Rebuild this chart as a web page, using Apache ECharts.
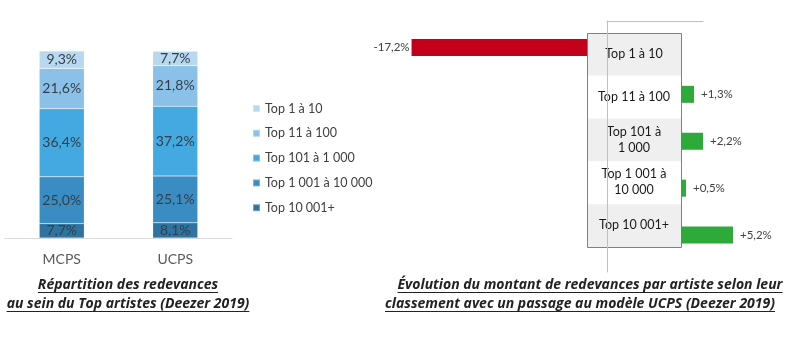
<!DOCTYPE html>
<html><head><meta charset="utf-8">
<script src="https://cdn.jsdelivr.net/npm/echarts@6/dist/echarts.min.js"></script>
<style>html,body{margin:0;padding:0;background:#fff}#c{width:798px;height:340px}</style>
</head><body><div id="c"></div>
<script>
// Artist tiers (top of the ranking first)
const tiers = ['Top 1 à 10', 'Top 11 à 100', 'Top 101 à 1 000', 'Top 1 001 à 10 000', 'Top 10 001+'];
const tierRowLabels = ['Top 1 à 10', 'Top 11 à 100', 'Top 101 à\n1 000', 'Top 1 001 à\n10 000', 'Top 10 001+'];
const models = ['MCPS', 'UCPS'];
// Share of royalties (%) going to each tier, per model
const shareMCPS = [9.3, 21.6, 36.4, 25.0, 7.7];
const shareUCPS = [7.7, 21.8, 37.2, 25.1, 8.1];
// Change (%) in royalties per artist when moving to UCPS
const changeUCPS = [-17.2, 1.3, 2.2, 0.5, 5.2];

const titleLeft = ['Répartition des redevances', 'au sein du Top artistes (Deezer 2019)'];
const titleRight = ['Évolution du montant de redevances par artiste selon leur',
                    'classement avec un passage au modèle UCPS (Deezer 2019)'];

const tierColors = ['#b8d8ef', '#8bc1e8', '#44a9e0', '#3a8dc3', '#2f74a0'];
const FONT = 'Lato, "Open Sans", sans-serif';
const TITLE_FONT = '"Open Sans", Lato, sans-serif';

const fmt = v => v.toFixed(1).replace('.', ',') + '%';
const fmtSigned = v => (v > 0 ? '+' : '') + fmt(v);

const chart = echarts.init(document.getElementById('c'), null, { renderer: 'canvas' });

// stacked share bars: first series sits at the bottom of the stack
const shareSeries = [];
for (let i = tiers.length - 1; i >= 0; i--) {
  shareSeries.push({
    name: tiers[i], type: 'bar', stack: 'share', xAxisIndex: 0, yAxisIndex: 0,
    barWidth: 45,
    data: [shareMCPS[i], shareUCPS[i]],
    itemStyle: { color: tierColors[i], borderColor: 'rgba(255,255,255,0.35)', borderWidth: 0.5 },
    label: { show: true, position: 'inside', formatter: p => fmt(p.value),
             color: '#333f48', fontSize: 14, fontFamily: FONT },
    emphasis: { disabled: true }
  });
}

const labelStyle = { color: '#404040', fontSize: 11.5, fontFamily: FONT };

const changeNeg = changeUCPS.map(v => (v < 0 ? v : '-'));
const changePos = changeUCPS.map(v => (v >= 0 ? v : '-'));

// title text + underline, measured with the same font
const measure = document.createElement('canvas').getContext('2d');
measure.font = 'italic bold 14px "Open Sans"';
function titleLine(text, cx, cy) {
  const w = measure.measureText(text).width;
  return [
    { type: 'text', z: 100, style: { text, x: cx, y: cy, textAlign: 'center', textVerticalAlign: 'middle',
      fontSize: 14, fontWeight: 'bold', fontStyle: 'italic', fontFamily: TITLE_FONT, fill: '#222' } },
    { type: 'line', z: 100, shape: { x1: cx - w / 2, y1: cy + 7.5, x2: cx + w / 2, y2: cy + 7.5 },
      style: { stroke: '#222', lineWidth: 1 } }
  ];
}

// central column with tier names
const boxX = 587, boxY = 33, boxW = 94, rowH = 42.8;
const boxChildren = [];
tierRowLabels.forEach((t, i) => {
  boxChildren.push({ type: 'rect', shape: { x: boxX, y: boxY + i * rowH, width: boxW, height: rowH },
    style: { fill: i % 2 === 0 ? '#efefef' : '#ffffff' } });
  boxChildren.push({ type: 'text', style: { text: t, x: boxX + boxW / 2, y: boxY + (i + 0.5) * rowH - 0.5,
    textAlign: 'center', textVerticalAlign: 'middle', fontSize: 12.5, lineHeight: 16,
    fontFamily: FONT, fill: '#1a1a1a' } });
});
boxChildren.push({ type: 'rect', shape: { x: boxX + 0.5, y: boxY + 0.5, width: boxW, height: rowH * tiers.length },
  style: { fill: 'none', stroke: '#808080', lineWidth: 1 } });

const option = {
  animation: false,
  textStyle: { fontFamily: FONT },
  legend: {
    data: tiers, orient: 'vertical', left: 252, top: 102, padding: 0,
    icon: 'rect', itemWidth: 7, itemHeight: 7, itemGap: 11.8,
    textStyle: { fontSize: 12.5, color: '#404040', fontFamily: FONT },
    selectedMode: false
  },
  grid: [
    { left: 5, width: 227, top: 51, height: 187 },
    { left: 383, width: 204, top: 24, height: 234.5 },
    { left: 681, width: 100, top: 24, height: 234.5 },
    { left: 607, width: 96, top: 21, height: 251 }
  ],
  xAxis: [
    { gridIndex: 0, type: 'category', data: models,
      axisLine: { lineStyle: { color: '#d9d9d9', width: 1 } }, axisTick: { show: false },
      axisLabel: { fontSize: 14, color: '#595959', margin: 14, fontFamily: FONT } },
    { gridIndex: 1, type: 'value', min: -20, max: 0, show: false },
    { gridIndex: 2, type: 'value', min: 0, max: 10, show: false },
    { gridIndex: 3, type: 'value', min: 0, max: 1, position: 'top',
      axisLine: { show: true, onZero: false, lineStyle: { color: '#bfbfbf' } },
      axisTick: { show: false }, axisLabel: { show: false }, splitLine: { show: false } }
  ],
  yAxis: [
    { gridIndex: 0, type: 'value', min: 0, max: 100, show: false },
    { gridIndex: 1, type: 'category', data: tiers, inverse: true, show: false },
    { gridIndex: 2, type: 'category', data: tiers, inverse: true, show: false },
    { gridIndex: 3, type: 'value', min: 0, max: 1,
      axisLine: { show: true, onZero: false, lineStyle: { color: '#bfbfbf' } },
      axisTick: { show: false }, axisLabel: { show: false }, splitLine: { show: false } }
  ],
  series: shareSeries.concat([
    { name: 'baisse', type: 'bar', xAxisIndex: 1, yAxisIndex: 1, barWidth: 17, data: changeNeg,
      itemStyle: { color: '#c3001a' },
      label: { show: true, position: 'left', distance: 2, formatter: p => fmtSigned(p.value), ...labelStyle } },
    { name: 'hausse', type: 'bar', xAxisIndex: 2, yAxisIndex: 2, barWidth: 17, data: changePos,
      itemStyle: { color: '#2eaa3a' },
      label: { show: true, position: 'right', distance: 7, formatter: p => fmtSigned(p.value), ...labelStyle } },
    { type: 'line', xAxisIndex: 3, yAxisIndex: 3, data: [] }
  ]),
  graphic: [
    { type: 'group', z: 90, children: boxChildren },
    ...titleLine(titleLeft[0], 128, 285),
    ...titleLine(titleLeft[1], 128, 304),
    ...titleLine(titleRight[0], 590, 285),
    ...titleLine(titleRight[1], 580, 304)
  ]
};
chart.setOption(option);
</script>
</body></html>
